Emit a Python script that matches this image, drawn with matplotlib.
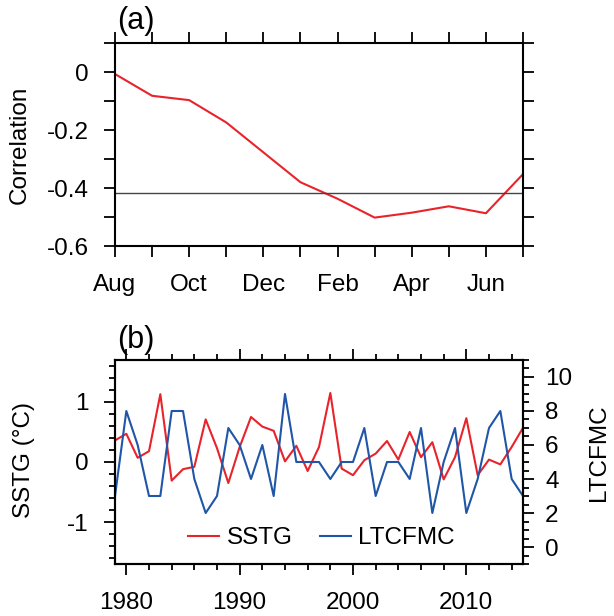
"""Two-panel chart: lagged correlation (a) and SSTG / LTCFMC time series (b)."""

import matplotlib

matplotlib.use("Agg")
import matplotlib.pyplot as plt
from matplotlib.ticker import MultipleLocator

plt.rcParams["font.family"] = ["Liberation Sans", "DejaVu Sans"]

# panel (a): correlation by month
months = ["Aug", "Sep", "Oct", "Nov", "Dec", "Jan", "Feb", "Mar", "Apr", "May", "Jun", "Jul"]
corr = [-0.007, -0.082, -0.097, -0.174, -0.277, -0.380, -0.437, -0.502, -0.485, -0.463, -0.487, -0.352]
sig_level = -0.418

# panel (b): yearly series
years = list(range(1979, 2016))
sstg = [0.36, 0.47, 0.07, 0.18, 1.13, -0.31, -0.12, -0.08, 0.71, 0.23,
        -0.35, 0.25, 0.75, 0.59, 0.52, 0.01, 0.27, -0.15, 0.25, 1.15,
        -0.11, -0.22, 0.03, 0.14, 0.35, 0.04, 0.50, 0.08, 0.33, -0.29,
        0.08, 0.73, -0.22, 0.04, -0.04, 0.25, 0.57]
ltcfmc = [3, 8, 6, 3, 3, 8, 8, 4, 2, 3,
          7, 6, 4, 6, 3, 9, 5, 5, 5, 4,
          5, 5, 7, 3, 5, 5, 4, 7, 2, 5,
          7, 2, 4, 7, 8, 4, 3]

RED = "#e8232b"
BLUE = "#1f56a8"
FS = 17.5
PANEL_FS = 22


def style_ticks(ax):
    ax.tick_params(which="both", direction="out", width=1.3, labelsize=FS,
                   top=True, right=True)
    ax.tick_params(which="major", length=8)
    ax.tick_params(which="minor", length=4)
    ax.tick_params(axis="y", pad=11)
    ax.tick_params(axis="x", pad=12, labeltop=False)
    for s in ax.spines.values():
        s.set_linewidth(1.5)


fig = plt.figure(figsize=(6.14, 6.16), dpi=100)

# ---- (a)
ax1 = fig.add_axes([0.1873, 0.6006, 0.6645, 0.3296])
x = list(range(len(months)))
ax1.plot(x, corr, color=RED, lw=1.5)
ax1.axhline(sig_level, color="#444444", lw=1.0)
ax1.set_xlim(0, len(months) - 1)
ax1.set_ylim(-0.6, 0.1)
ax1.set_xticks(x[::2])
ax1.set_xticklabels(months[::2])
ax1.set_xticks(x, minor=True)
ax1.set_yticks([-0.6, -0.4, -0.2, 0])
ax1.set_yticklabels(["-0.6", "-0.4", "-0.2", "0"])
ax1.yaxis.set_minor_locator(MultipleLocator(0.1))
style_ticks(ax1)
ax1.tick_params(which="minor", length=8)
ax1.tick_params(axis="y", labelright=False)
fig.text(20 / 614, 1 - 145 / 616, "Correlation", fontsize=FS, rotation=90,
         ha="center", va="center")
fig.text(0.191, 1 - 21 / 616, "(a)", fontsize=PANEL_FS, va="center", ha="left")

# ---- (b)
ax2 = fig.add_axes([0.1873, 0.0844, 0.6645, 0.3312])
l1, = ax2.plot(years, sstg, color=RED, lw=1.5, label="SSTG")
ax2.set_xlim(1979, 2015)
ax2.set_ylim(-1.7, 1.7)
ax2.set_yticks([-1, 0, 1])
ax2.set_yticklabels(["-1", "0", "1"])
ax2.yaxis.set_minor_locator(MultipleLocator(0.2))
ax2.set_xticks([1980, 1990, 2000, 2010])
ax2.xaxis.set_minor_locator(MultipleLocator(2))
style_ticks(ax2)
ax2.tick_params(axis="y", right=False, which="both")
fig.text(24 / 614, 1 - 460 / 616, "SSTG (\u00b0C)", fontsize=FS, rotation=90,
         ha="center", va="center")

ax3 = ax2.twinx()
l2, = ax3.plot(years, ltcfmc, color=BLUE, lw=1.5, label="LTCFMC")
ax3.set_ylim(-1, 11)
ax3.set_yticks([0, 2, 4, 6, 8, 10])
ax3.yaxis.set_minor_locator(MultipleLocator(0.5))
ax3.tick_params(which="both", direction="out", width=1.3, labelsize=FS, pad=8)
ax3.tick_params(which="major", length=8)
ax3.tick_params(which="minor", length=4)
for s in ax3.spines.values():
    s.set_linewidth(1.5)
fig.text(599 / 614, 1 - 453 / 616, "LTCFMC", fontsize=FS, rotation=90,
         ha="center", va="center")

ax2.legend(handles=[l1, l2], loc="center", ncol=2, frameon=False,
           fontsize=FS, handlelength=1.3, handletextpad=0.3,
           columnspacing=1.1, borderpad=0, bbox_to_anchor=(0.506, 0.127))
fig.text(0.191, 1 - 340 / 616, "(b)", fontsize=PANEL_FS, va="center", ha="left")

fig.savefig("out.png", dpi=100)
